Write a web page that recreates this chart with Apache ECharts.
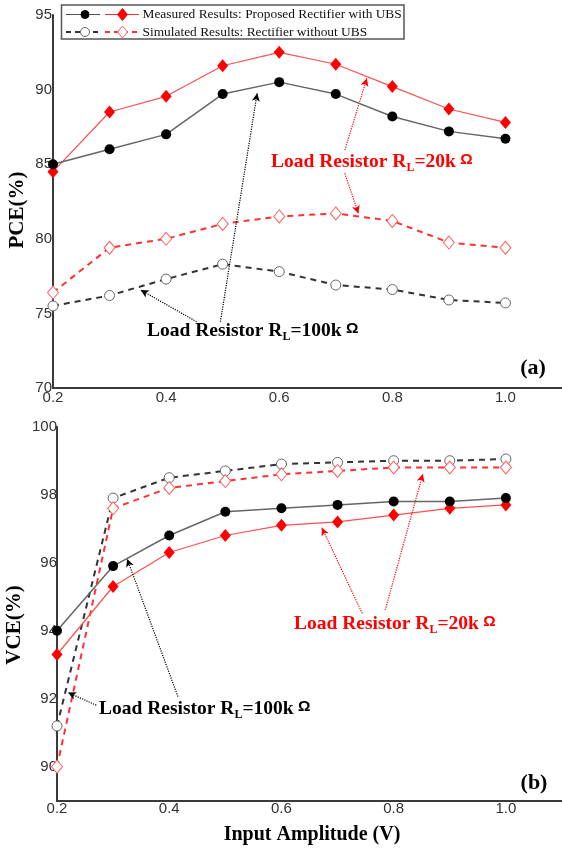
<!DOCTYPE html>
<html>
<head>
<meta charset="utf-8">
<script src="https://cdn.jsdelivr.net/npm/echarts@6/dist/echarts.min.js"></script>
<style>
html,body{margin:0;padding:0;background:#fff;}
#c{width:562px;height:850px;}
</style>
</head>
<body>
<div id="c"></div>
<script>
// ---- data ----
const inputAmplitude = [0.2, 0.3, 0.4, 0.5, 0.6, 0.7, 0.8, 0.9, 1.0];
const pceMeasured100k = [85.0, 86.0, 87.0, 89.7, 90.5, 89.7, 88.2, 87.2, 86.7];
const pceMeasured20k  = [84.5, 88.5, 89.55, 91.6, 92.5, 91.7, 90.2, 88.7, 87.8];
const pceSim100k      = [75.5, 76.2, 77.3, 78.3, 77.8, 76.9, 76.6, 75.9, 75.7];
const pceSim20k       = [76.4, 79.4, 80.0, 81.0, 81.5, 81.7, 81.2, 79.75, 79.4];
const vceMeasured100k = [94.0, 95.9, 96.8, 97.5, 97.6, 97.7, 97.8, 97.8, 97.9];
const vceMeasured20k  = [93.3, 95.3, 96.3, 96.8, 97.1, 97.2, 97.4, 97.6, 97.7];
const vceSim100k      = [91.2, 97.9, 98.5, 98.7, 98.9, 98.95, 99.0, 99.0, 99.05];
const vceSim20k       = [90.0, 97.6, 98.2, 98.4, 98.6, 98.7, 98.8, 98.8, 98.8];
const xTickLabels = ['0.2', '0.4', '0.6', '0.8', '1.0'];
const pceTickLabels = ['70', '75', '80', '85', '90', '95'];
const vceTickLabels = ['90', '92', '94', '96', '98', '100'];
const legendLabels = ['Measured Results: Proposed Rectifier with UBS', 'Simulated Results: Rectifier without UBS'];

// annotation arrows in data coordinates: [x1, y1, x2(head), y2(head)]
const pceArrowsBlack = [[0.454, 74.44, 0.355, 76.57], [0.496, 74.44, 0.561, 89.75]];
const pceArrowsRed   = [[0.716, 85.95, 0.755, 90.76], [0.716, 84.39, 0.740, 81.70]];
const vceArrowsBlack = [[0.270, 91.81, 0.2196, 92.18], [0.4155, 92.06, 0.325, 96.11]];
const vceArrowsRed   = [[0.744, 94.51, 0.672, 97.03], [0.785, 94.61, 0.852, 98.61]];

const pairs = (ys) => inputAmplitude.map((x, i) => [x, ys[i]]);
const serif = '"Liberation Serif","Times New Roman",serif';
const sans = '"Liberation Sans",Arial,sans-serif';

function arrows(list, color) {
  return {
    silent: true,
    symbol: ['none', 'arrow'],
    symbolSize: [6, 8],
    label: {show: false},
    lineStyle: {type: 'dotted', width: 1.2, color: color},
    data: list.map(a => [{coord: [a[0], a[1]]}, {coord: [a[2], a[3]]}])
  };
}

function xAxis(gi, margin) {
  return {
    type: 'value', gridIndex: gi, min: 0.2, max: 1.1, interval: 0.2,
    axisLine: {lineStyle: {color: '#3a3a3a', width: 2}},
    axisTick: {show: false}, splitLine: {show: false},
    axisLabel: {
      showMaxLabel: false, margin: margin, color: '#333', fontFamily: sans, fontSize: 15,
      formatter: v => { const s = v.toFixed(1); return xTickLabels.indexOf(s) >= 0 ? s : ''; }
    }
  };
}

function series(gi, data, kind) {
  const base = {type: 'line', xAxisIndex: gi, yAxisIndex: gi, data: pairs(data), z: 3};
  if (kind === 'm100') return Object.assign(base, {
    symbol: 'circle', symbolSize: 10,
    lineStyle: {color: '#666', width: 1.5}, itemStyle: {color: '#000'}, z: 5
  });
  if (kind === 'm20') return Object.assign(base, {
    symbol: 'diamond', symbolSize: [11, 13],
    lineStyle: {color: '#ff5050', width: 1.2}, itemStyle: {color: '#ff0000'}, z: 4
  });
  if (kind === 's100') return Object.assign(base, {
    symbol: 'circle', symbolSize: 10, showAllSymbol: true,
    lineStyle: {color: '#333', width: 2, type: [6, 5]},
    itemStyle: {color: '#fff', borderColor: '#666', borderWidth: 1}
  });
  return Object.assign(base, {
    symbol: 'diamond', symbolSize: [11, 13],
    lineStyle: {color: '#ff3030', width: 2, type: [6, 5]},
    itemStyle: {color: '#fff', borderColor: '#ff6060', borderWidth: 1}
  });
}

const s0 = series(0, pceMeasured100k, 'm100'); s0.markLine = arrows(pceArrowsBlack, '#000');
const s1 = series(0, pceMeasured20k, 'm20');   s1.markLine = arrows(pceArrowsRed, '#ff0000');
const s4 = series(1, vceMeasured100k, 'm100'); s4.markLine = arrows(vceArrowsBlack, '#000');
const s5 = series(1, vceMeasured20k, 'm20');   s5.markLine = arrows(vceArrowsRed, '#ff0000');

function loadText(x, y, val, color) {
  return {
    type: 'text', x: x, y: y, silent: true,
    style: {
      text: '{a|Load Resistor R}{s|L}{a|=' + val + '}{o| Ω}',
      fill: color,
      rich: {
        a: {fontFamily: serif, fontWeight: 'bold', fontSize: 19.5, lineHeight: 22, verticalAlign: 'top', fill: color, color: color},
        s: {fontFamily: serif, fontWeight: 'bold', fontSize: 12, lineHeight: 12, verticalAlign: 'bottom', fill: color, color: color},
        o: {fontFamily: sans, fontWeight: 'bold', fontSize: 15.5, lineHeight: 18, verticalAlign: 'top', fill: color, color: color}
      }
    }
  };
}

function legendRow(y, dashed, label) {
  const els = [];
  const lt = dashed ? [5, 4] : null;
  els.push({type: 'line', shape: {x1: 66, y1: y, x2: 100, y2: y}, style: {stroke: dashed ? '#333' : '#555', lineWidth: dashed ? 2 : 1.2, lineDash: lt}});
  els.push({type: 'line', shape: {x1: 105, y1: y, x2: 139, y2: y}, style: {stroke: '#ff3030', lineWidth: dashed ? 2 : 1.2, lineDash: lt}});
  els.push({type: 'circle', shape: {cx: 85, cy: y, r: dashed ? 4.5 : 4}, style: {fill: dashed ? '#fff' : '#000', stroke: dashed ? '#666' : '#000', lineWidth: 1}});
  els.push({type: 'polygon', shape: {points: [[122.5, y - 6], [127.5, y], [122.5, y + 6], [117.5, y]]}, style: {fill: dashed ? '#fff' : '#ff0000', stroke: dashed ? '#ff6060' : '#ff0000', lineWidth: 1}});
  els.push({type: 'text', x: 142.5, y: y, style: {text: label, fontFamily: serif, fontSize: 13.4, fill: '#111', verticalAlign: 'middle', textVerticalAlign: 'middle'}});
  return els;
}

const graphics = [
  {type: 'rect', shape: {x: 61.5, y: 5, width: 342.5, height: 34}, style: {fill: '#fff', stroke: '#555', lineWidth: 1.5}, z: 10},
  ...legendRow(14.5, false, legendLabels[0]).map(e => Object.assign(e, {z: 11})),
  ...legendRow(32, true, legendLabels[1]).map(e => Object.assign(e, {z: 11})),
  loadText(147, 321, '100k', '#000'),
  loadText(271, 152, '20k', '#ff0000'),
  loadText(294, 614, '20k', '#ff0000'),
  loadText(99, 699, '100k', '#000'),
  {type: 'text', x: 533, y: 368, style: {text: '(a)', fontFamily: serif, fontWeight: 'bold', fontSize: 22, fill: '#000', align: 'center', textAlign: 'center', verticalAlign: 'middle', textVerticalAlign: 'middle'}},
  {type: 'text', x: 534, y: 783, style: {text: '(b)', fontFamily: serif, fontWeight: 'bold', fontSize: 22, fill: '#000', align: 'center', textAlign: 'center', verticalAlign: 'middle', textVerticalAlign: 'middle'}},
  {type: 'text', x: 18, y: 210, rotation: Math.PI / 2, style: {text: 'PCE(%)', fontFamily: serif, fontWeight: 'bold', fontSize: 21, fill: '#000', align: 'center', textAlign: 'center', verticalAlign: 'middle', textVerticalAlign: 'middle'}},
  {type: 'text', x: 15, y: 625, rotation: Math.PI / 2, style: {text: 'VCE(%)', fontFamily: serif, fontWeight: 'bold', fontSize: 21, fill: '#000', align: 'center', textAlign: 'center', verticalAlign: 'middle', textVerticalAlign: 'middle'}},
  {type: 'text', x: 312, y: 835, style: {text: 'Input Amplitude (V)', fontFamily: serif, fontWeight: 'bold', fontSize: 20, fill: '#000', align: 'center', textAlign: 'center', verticalAlign: 'middle', textVerticalAlign: 'middle'}}
];

const chart = echarts.init(document.getElementById('c'), null, {renderer: 'canvas'});
chart.setOption({
  animation: false,
  backgroundColor: '#fff',
  grid: [
    {left: 53, top: 15, width: 511, height: 373},
    {left: 57, top: 426.7, width: 510, height: 374}
  ],
  xAxis: [xAxis(0, 2), xAxis(1, 1)],
  yAxis: [
    {type: 'value', gridIndex: 0, min: 70, max: 95, interval: 5,
     axisLine: {show: true, lineStyle: {color: '#3a3a3a', width: 2}},
     axisTick: {show: false}, splitLine: {show: false},
     axisLabel: {margin: 1, color: '#333', fontFamily: sans, fontSize: 15,
       formatter: v => pceTickLabels.indexOf(String(v)) >= 0 ? String(v) : ''}},
    {type: 'value', gridIndex: 1, min: 89, max: 100, interval: 1,
     axisLine: {show: true, lineStyle: {color: '#3a3a3a', width: 2}},
     axisTick: {show: false}, splitLine: {show: false},
     axisLabel: {margin: 0, color: '#333', fontFamily: sans, fontSize: 15,
       formatter: v => vceTickLabels.indexOf(String(v)) >= 0 ? String(v) : ''}}
  ],
  series: [
    series(0, pceSim100k, 's100'), series(0, pceSim20k, 's20'), s1, s0,
    series(1, vceSim100k, 's100'), series(1, vceSim20k, 's20'), s5, s4
  ],
  graphic: graphics
});
</script>
</body>
</html>
